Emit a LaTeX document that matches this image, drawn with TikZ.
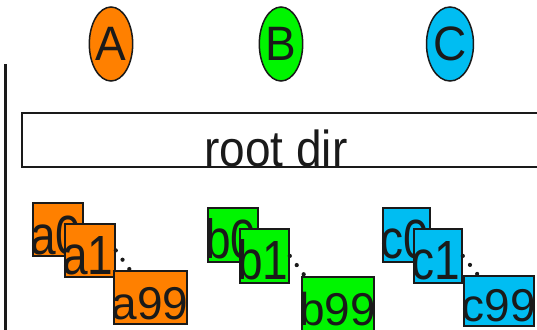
\documentclass[tikz,border=0pt]{standalone}
\usepackage{fontspec}
\setmainfont{Liberation Sans}
\usetikzlibrary{calc,shapes.geometric}
\definecolor{corange}{HTML}{FF8000}
\definecolor{cgreen}{HTML}{00F500}
\definecolor{ccyan}{HTML}{00BDF2}
\definecolor{ink}{HTML}{1A1A1A}
\begin{document}
\begin{tikzpicture}[x=1pt,y=-1pt,
  bigfont/.style={font=\fontsize{46}{50}\selectfont, text=ink},
  proc/.style={ellipse, draw=ink, line width=1.5pt, minimum width=41pt, minimum height=74pt, inner sep=0pt, bigfont},
  filebox/.style={draw=ink, line width=1.8pt, inner sep=0pt, anchor=north west},
  lbl/.style={bigfont, inner sep=0pt, anchor=base west},
  dotline/.style={draw=ink, line width=4.2pt, line cap=round, dash pattern=on 0pt off 11.5pt}]
\clip (0,0) rectangle (537,329);
\fill[white] (0,0) rectangle (537,329);
% vertical line
\coordinate (vtop) at (5.5,64);
\coordinate (vbot) at (5.5,335);
\draw[ink, line width=2.2pt] (vtop) -- (vbot);
% processes
\node[proc, fill=corange] (A) at (111,44) {\scalebox{1}[1.05]{A}};
\node[proc, fill=cgreen, minimum width=42pt] (B) at (281,44) {\scalebox{1}[1.05]{B}};
\node[proc, fill=ccyan, minimum width=45pt] (C) at (450,44) {\scalebox{1}[1.05]{C}};
% root dir
\node[filebox, line width=1.5pt, minimum width=525pt, minimum height=54pt] (root) at (21,112) {};
\node[lbl, anchor=base] (roott) at ($(root.south west)+(255,-1.5)$) {\scalebox{1}[1.1]{root dir}};
% group a
\node[filebox, fill=corange, minimum width=50pt, minimum height=53pt] (a0) at (32,202) {};
\node[lbl] (a0t) at ($(a0.south west)+(-2,-2.5)$) {\scalebox{1}[1.2]{a0}};
\node[filebox, fill=corange, minimum width=50pt, minimum height=53pt] (a1) at (64,223) {};
\node[lbl] (a1t) at ($(a1.south west)+(-2,-3.5)$) {\scalebox{1}[1.2]{a1}};
\node[filebox, fill=corange, minimum width=73pt, minimum height=53pt] (a99) at (113,270) {};
\node[lbl] (a99t) at ($(a99.south west)+(-1.5,-5)$) {a99};
\draw[dotline] (a1.east) -- ($(a99.north west)+(17,0)$);
% group b
\node[filebox, fill=cgreen, minimum width=50pt, minimum height=54pt] (b0) at (207,207) {};
\node[lbl] (b0t) at ($(b0.south west)+(-2,-4)$) {\scalebox{1}[1.2]{b0}};
\node[filebox, fill=cgreen, minimum width=49pt, minimum height=54pt] (b1) at (239,228) {};
\node[lbl] (b1t) at ($(b1.south west)+(-2,-4)$) {\scalebox{1}[1.2]{b1}};
\node[filebox, fill=cgreen, minimum width=72pt, minimum height=54pt] (b99) at (301,276) {};
\node[lbl] (b99t) at ($(b99.south west)+(-2,-6)$) {b99};
\draw[dotline] (b1.east) -- ($(b99.north west)+(4,0)$);
% group c
\node[filebox, fill=ccyan, minimum width=47pt, minimum height=54pt] (c0) at (382,207) {};
\node[lbl] (c0t) at ($(c0.south west)+(-2,-4)$) {\scalebox{1}[1.2]{c0}};
\node[filebox, fill=ccyan, minimum width=48pt, minimum height=54pt] (c1) at (413,228) {};
\node[lbl] (c1t) at ($(c1.south west)+(-2,-4)$) {\scalebox{1}[1.2]{c1}};
\node[filebox, fill=ccyan, minimum width=70pt, minimum height=50pt] (c99) at (463,275) {};
\node[lbl] (c99t) at ($(c99.south west)+(-1.5,-5)$) {c99};
\draw[dotline] (c1.east) -- ($(c99.north west)+(15,0)$);
\end{tikzpicture}
\end{document}
